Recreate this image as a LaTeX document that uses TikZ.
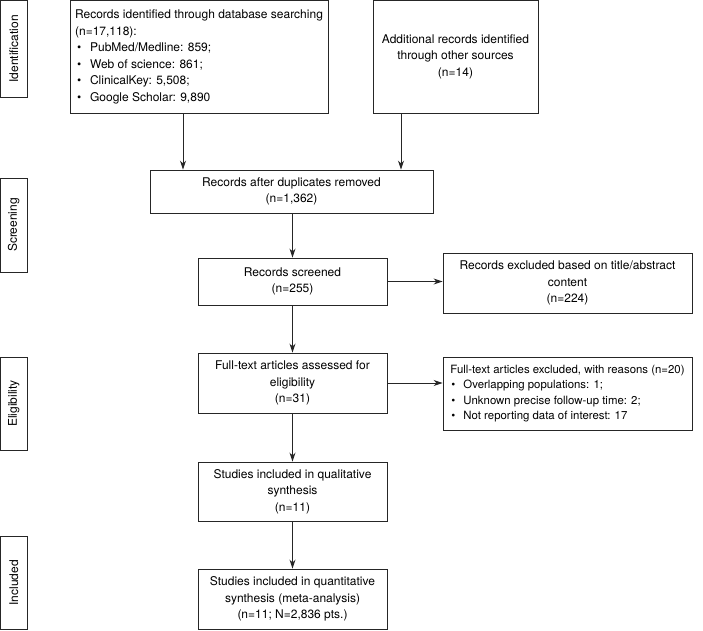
\documentclass[tikz,border=0pt]{standalone}
\usepackage{fontspec}
\setmainfont{TeX Gyre Heros}
\usetikzlibrary{arrows.meta}
\newcommand{\bul}{\hspace*{2pt}\makebox[13pt][l]{\textbullet}}
\newcommand{\bulb}{\hspace*{1pt}\makebox[12pt][l]{\textbullet}}
\begin{document}
\begin{tikzpicture}[x=1pt,y=-1pt,
  box/.style={draw=black!85, line width=0.9pt, inner sep=0pt, align=center,
    font=\fontsize{12}{16.5}\selectfont},
  lbox/.style={box, align=left},
  side/.style={box, rotate=90},
  arr/.style={draw=black!85, line width=0.9pt, -{Stealth[length=9pt,width=6pt]}}]
\useasboundingbox (0,0) rectangle (703,630);
% phase labels
\node[side, minimum width=96.5pt, minimum height=26.5pt] (id) at (13.75,48.75) {Identification};
\node[side, minimum width=94pt, minimum height=26.5pt] (sc) at (13.75,225) {Screening};
\node[side, minimum width=93pt, minimum height=26.5pt] (el) at (13.75,403.5) {Eligibility};
\node[side, minimum width=93.5pt, minimum height=26.5pt] (in) at (13.75,582.75) {Included};
% boxes
\node[lbox, minimum width=258pt, minimum height=112.5pt] (b1) at (199,56.75)
  {Records identified through database searching\\(n=17,118):\\\bul PubMed/Medline: 859;\\\bul Web of science: 861;\\\bul ClinicalKey: 5,508;\\\bul Google Scholar: 9,890};
\node[box, minimum width=165pt, minimum height=112.5pt] (b2) at (455.5,56.75)
  {Additional records identified\\through other sources\\(n=14)};
\node[box, minimum width=283pt, minimum height=43pt] (b3) at (291.5,191.5)
  {Records after duplicates removed\\(n=1,362)};
\node[box, minimum width=189pt, minimum height=47pt] (b4) at (292.5,281.5)
  {Records screened\\(n=255)};
\node[box, minimum width=249pt, minimum height=60pt] (b5) at (567.5,283)
  {Records excluded based on title/abstract\\content\\(n=224)};
\node[box, minimum width=189pt, minimum height=60pt] (b6) at (292.5,383)
  {Full-text articles assessed for\\eligibility\\(n=31)};
\node[lbox, minimum width=249pt, minimum height=73pt, font=\fontsize{11.4}{15.2}\selectfont] (b7) at (567.5,393.5)
  {Full-text articles excluded, with reasons (n=20)\\\bulb Overlapping populations: 1;\\\bulb Unknown precise follow-up time: 2;\\\bulb Not reporting data of interest: 17};
\node[box, minimum width=189pt, minimum height=59pt] (b8) at (292.5,491.5)
  {Studies included in qualitative\\synthesis\\(n=11)};
\node[box, minimum width=189pt, minimum height=60.5pt] (b9) at (292.5,599.25)
  {Studies included in quantitative\\synthesis (meta-analysis)\\(n=11; N=2,836 pts.)};
% connectors
\coordinate (c1) at (183,0);
\coordinate (c2) at (401,0);
\draw[arr] (b1.south -| c1) -- (b3.north -| c1);
\draw[arr] (b2.south -| c2) -- (b3.north -| c2);
\draw[arr] (b3.south -| b4.north) -- (b4.north);
\draw[arr] (b4.east) -- (b4.east -| b5.west);
\draw[arr] (b4.south) -- (b6.north);
\draw[arr] (b6.east) -- (b6.east -| b7.west);
\draw[arr] (b6.south) -- (b8.north);
\draw[arr] (b8.south) -- (b9.north);
\end{tikzpicture}
\end{document}
